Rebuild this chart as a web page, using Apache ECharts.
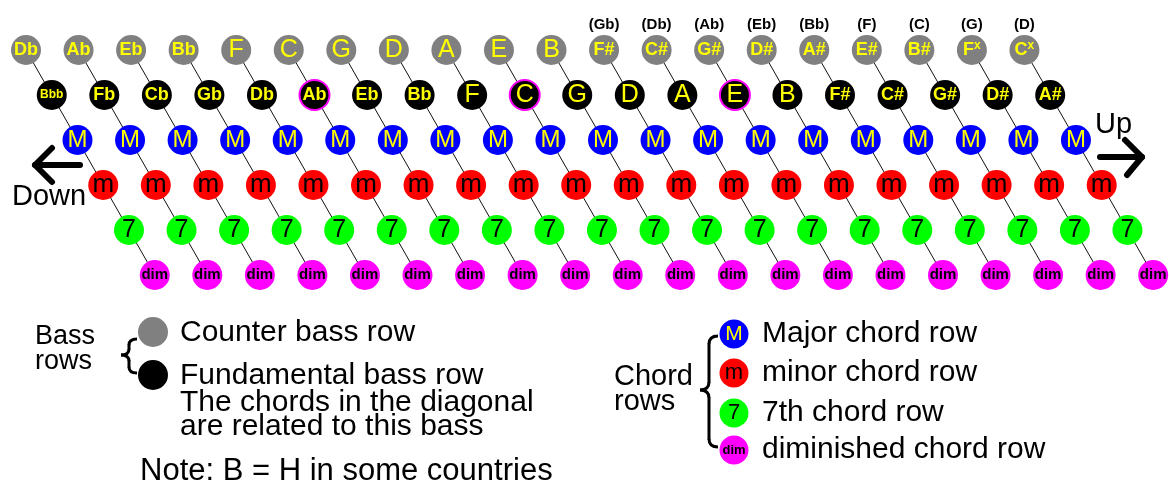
<!DOCTYPE html>
<html><head><meta charset="utf-8">
<script src="https://cdn.jsdelivr.net/npm/echarts@6/dist/echarts.min.js"></script>
<style>html,body{margin:0;padding:0;background:#fff}#c{width:1169px;height:488px}</style>
</head><body><div id="c"></div>
<script>
// ---- data ----
const counterBass = ['Db','Ab','Eb','Bb','F','C','G','D','A','E','B','F#','C#','G#','D#','A#','E#','B#','Fx','Cx'];
const enharmonic = ['','','','','','','','','','','','(Gb)','(Db)','(Ab)','(Eb)','(Bb)','(F)','(C)','(G)','(D)'];
const fundamentalBass = ['Bbb','Fb','Cb','Gb','Db','Ab','Eb','Bb','F','C','G','D','A','E','B','F#','C#','G#','D#','A#'];
const outlinedBass = ['Ab','C','E'];
const chordRows = ['M','m','7','dim'];
const chordLegend = ['Major chord row','minor chord row','7th chord row','diminished chord row'];
const bassLegend = ['Counter bass row','Fundamental bass row','The chords in the diagonal','are related to this bass'];
const noteText = 'Note: B = H in some countries';

// ---- styles ----
const FONT = '"Liberation Sans", Arial, sans-serif';
const YELLOW = '#ffff00';
const GRAY = '#808080';
const chordColors = ['#0000ff','#ff0000','#00ff00','#ff00ff'];
const chordTextColors = [YELLOW,'#000','#000','#000'];
const ROW_SHIFT = 0.49;

function pos(col,row){ return [col + row*ROW_SHIFT, row]; }

function noteLabel(name){
  if (name.length === 1) return '{big|' + name + '}';
  if (name.length === 2 && name[1] === 'x') return '{mid|' + name[0] + '}{sup|x}';
  if (name.length === 3) return '{small|' + name + '}';
  return '{mid|' + name + '}';
}
const noteRich = {
  big:{fontFamily:FONT,fontSize:25,color:YELLOW,lineHeight:24},
  mid:{fontFamily:FONT,fontSize:18,fontWeight:'bold',color:YELLOW,lineHeight:20},
  small:{fontFamily:FONT,fontSize:12,fontWeight:'bold',color:YELLOW,lineHeight:14},
  sup:{fontFamily:FONT,fontSize:12,fontWeight:'bold',color:YELLOW,lineHeight:12,verticalAlign:'top'}
};

const nCols = counterBass.length;
const connectors = [];
for (let c = 0; c < nCols; c++) {
  const coords = [];
  for (let r = 0; r < 2 + chordRows.length; r++) coords.push(pos(c, r));
  connectors.push({coords});
}

const series = [
  {type:'lines', coordinateSystem:'cartesian2d', polyline:true, silent:true, z:1,
   lineStyle:{color:'#111', width:1, opacity:1}, data:connectors},
  {type:'scatter', name:'enharmonic', symbolSize:0, silent:true, z:3,
   itemStyle:{opacity:1},
   data: enharmonic.map((n,i)=>({name:n, value:[i, -0.56]})),
   label:{show:true, position:'inside', formatter:p=>p.name, fontFamily:FONT, fontSize:15, fontWeight:'bold', color:'#000', opacity:1}},
  {type:'scatter', name:'Counter bass', symbol:'circle', symbolSize:30, silent:true, z:3,
   itemStyle:{color:GRAY, opacity:1},
   data: counterBass.map((n,i)=>({name:n, value:pos(i,0)})),
   label:{show:true, position:'inside', formatter:p=>noteLabel(p.name), rich:noteRich}},
  {type:'scatter', name:'Fundamental bass', symbol:'circle', symbolSize:30, silent:true, z:3,
   itemStyle:{color:'#000', opacity:1},
   data: fundamentalBass.map((n,i)=>({name:n, value:pos(i,1),
     itemStyle: outlinedBass.includes(n) ? {borderColor:'#ff00ff', borderWidth:2, opacity:1} : undefined})),
   label:{show:true, position:'inside', formatter:p=>noteLabel(p.name), rich:noteRich}}
];
const chordFont = [
  {fontSize:24, fontWeight:'normal'},
  {fontSize:26, fontWeight:'normal'},
  {fontSize:25, fontWeight:'normal'},
  {fontSize:15, fontWeight:'bold'}
];
chordRows.forEach((ch,k)=>{
  series.push({type:'scatter', name:ch, symbol:'circle', symbolSize:30, silent:true, z:3,
    itemStyle:{color:chordColors[k], opacity:1},
    data: counterBass.map((_,i)=>({name:ch, value:pos(i,k+2)})),
    label:{show:true, position:'inside', formatter:p=>p.name, fontFamily:FONT,
      fontSize:chordFont[k].fontSize, fontWeight:chordFont[k].fontWeight, color:chordTextColors[k]}});
});

// ---- decorations (legend, arrows) ----
function txt(text,x,y,size,opts){
  return Object.assign({type:'text', x, y, silent:true,
    style:{text, fontFamily:FONT, fontSize:size||30, fill:'#000', align:'left', verticalAlign:'middle'}}, opts||{});
}
function circ(cx,cy,r,fill){ return {type:'circle', silent:true, shape:{cx,cy,r}, style:{fill}}; }
function poly(points,w){ return {type:'polyline', silent:true, shape:{points}, style:{stroke:'#000',lineWidth:w,lineCap:'round',lineJoin:'round',fill:null}}; }
function quad(x1,y1,cx,cy,x2,y2,w){ return {type:'bezierCurve', silent:true, shape:{x1,y1,x2,y2,cpx1:cx,cpy1:cy}, style:{stroke:'#000',lineWidth:w,fill:null}}; }
// brace: right edge xr, spine xs, cusp xc, top yt, middle ym, bottom yb, hook h
function brace(xr,xs,xc,yt,ym,yb,h,w){
  return [
    quad(xr,yt,xs,yt,xs,yt+h,w),
    poly([[xs,yt+h],[xs,ym-h]],w),
    quad(xs,ym-h,xs,ym,xc,ym,w),
    quad(xc,ym,xs,ym,xs,ym+h,w),
    poly([[xs,ym+h],[xs,yb-h]],w),
    quad(xs,yb-h,xs,yb,xr,yb,w)
  ];
}
const graphics = [];
// arrows
graphics.push(poly([[52,148],[35,165],[52,182]],6));
graphics.push(poly([[35,165],[80,165]],6));
graphics.push(txt('Down', 12, 197, 29));
graphics.push(poly([[1125,140],[1142,157],[1127,175]],6));
graphics.push(poly([[1100,157],[1142,157]],6));
graphics.push(txt('Up', 1095, 125, 29));
// bass legend
graphics.push(txt('Bass', 35, 337, 27));
graphics.push(txt('rows', 35, 362, 27));
brace(137,129,121,339,355,373,6,3).forEach(g=>graphics.push(g));
graphics.push(circ(153,332,15,GRAY));
graphics.push(circ(153,375,15,'#000'));
graphics.push(txt(bassLegend[0], 180, 333));
graphics.push(txt(bassLegend[1], 180, 376));
graphics.push(txt(bassLegend[2], 180, 403));
graphics.push(txt(bassLegend[3], 180, 427));
graphics.push(txt(noteText, 140, 471, 31));
// chord legend
graphics.push(txt('Chord', 614, 377, 29));
graphics.push(txt('rows', 614, 402, 29));
brace(718,709,700,336,390,447,8,3).forEach(g=>graphics.push(g));
const legendY = [334, 373, 413, 450];
chordRows.forEach((ch,k)=>{
  graphics.push(circ(734, legendY[k], 14.5, chordColors[k]));
  const f = k===3 ? {fontSize:13, fontWeight:'bold'} : {fontSize:k===0?21:22, fontWeight:'normal'};
  graphics.push({type:'text', x:734, y:legendY[k], silent:true, z:10,
    style:{text:ch, fontFamily:FONT, fontSize:f.fontSize, fontWeight:f.fontWeight, fill:chordTextColors[k], align:'center', verticalAlign:'middle'}});
  graphics.push(txt(chordLegend[k], 762, legendY[k]));
});

const chart = echarts.init(document.getElementById('c'), null, {renderer:'canvas'});
chart.setOption({
  animation:false,
  backgroundColor:'#fff',
  grid:{left:0, right:0, top:0, bottom:0},
  xAxis:{type:'value', min:-26/52.55, max:(1169-26)/52.55, show:false},
  yAxis:{type:'value', inverse:true, min:-50/45, max:(488-50)/45, show:false},
  series,
  graphic:{elements:graphics}
});
</script></body></html>
